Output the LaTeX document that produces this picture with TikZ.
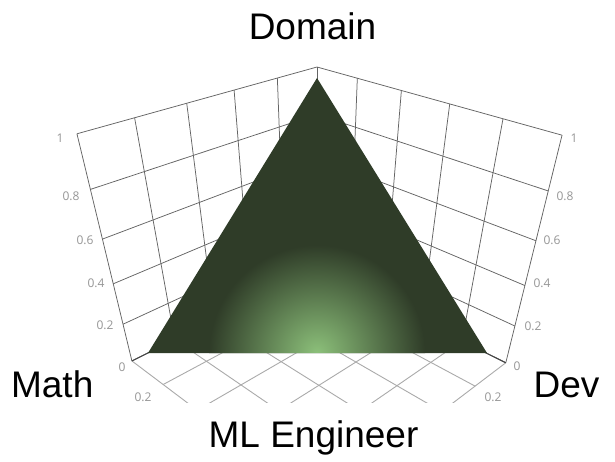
\documentclass[tikz,border=0pt]{standalone}
\usepackage{fontspec}
\setmainfont{Liberation Sans}
\newfontfamily\tickfont{Open Sans}

\definecolor{gridwall}{RGB}{100,100,100}
\definecolor{gridfloor}{RGB}{170,170,170}
\definecolor{edgedark}{RGB}{70,70,70}
\definecolor{ticklbl}{RGB}{150,150,150}
\definecolor{surfdark}{RGB}{47,60,40}
\definecolor{surflight}{RGB}{140,192,122}

% glow of the surface: light at the centre, dark from a quarter of the box on
\pgfdeclareradialshading{glow}{\pgfpoint{0bp}{0bp}}{%
  color(0bp)=(surflight); color(25bp)=(surfdark); color(50bp)=(surfdark)}

% perspective projection of the unit box: X along the left wall,
% Y along the right wall, Z upwards, all in [0,1]
\pgfqkeys{/boxcs}{X/.store in=\bX, Y/.store in=\bY, Z/.store in=\bZ}
\tikzdeclarecoordinatesystem{box}{%
  \pgfqkeys{/boxcs}{X=0,Y=0,Z=0,#1}%
  \pgfmathsetmacro\bp{0.8694*\bY-0.8554*\bX}%
  \pgfmathsetmacro\bq{0.8554*\bX+0.8694*\bY}%
  \pgfmathsetmacro\bd{(3.3088-\bq)*0.7206+(1.8218-\bZ)*0.6934}%
  \pgfmathsetmacro\bu{(3.3088-\bq)*0.6934+(\bZ-1.8218)*0.7206}%
  \pgfmathsetmacro\bsx{317+656*\bp/\bd}%
  \pgfmathsetmacro\bsy{445-656*\bu/\bd}%
  \pgfpoint{\bsx pt}{-\bsy pt}%
}

\begin{document}
\begin{tikzpicture}[x=1pt,y=-1pt,
  wallgrid/.style={draw=gridwall,line width=0.75pt},
  flooredge/.style={draw=edgedark,line width=0.9pt},
  floorgrid/.style={draw=gridfloor,line width=0.9pt},
  ticklabel/.style={font=\tickfont\fontsize{12}{13}\selectfont,text=ticklbl,inner sep=0pt},
  axistitle/.style={font=\fontsize{37}{40}\selectfont,inner sep=0pt,anchor=base}]
\useasboundingbox (0,0) rectangle (615,462);
\fill[white] (0,0) rectangle (615,462);

% floor grid, cut off at the bottom of the scene
\begin{scope}
  \clip (0,0) rectangle (615,402);
  \foreach \k in {0,0.2,0.4,0.6,0.8,1} {
    \draw[floorgrid] (box cs:X=\k,Y=0) -- (box cs:X=\k,Y=1);
    \draw[floorgrid] (box cs:X=0,Y=\k) -- (box cs:X=1,Y=\k);
  }
\end{scope}

% back walls
\foreach \k in {0,0.2,0.4,0.6,0.8,1} {
  \draw[wallgrid] (box cs:X=\k,Y=0,Z=0) -- (box cs:X=\k,Y=0,Z=1);
  \draw[wallgrid] (box cs:X=0,Y=0,Z=\k) -- (box cs:X=1,Y=0,Z=\k);
  \draw[wallgrid] (box cs:X=0,Y=\k,Z=0) -- (box cs:X=0,Y=\k,Z=1);
  \draw[wallgrid] (box cs:X=0,Y=0,Z=\k) -- (box cs:X=0,Y=1,Z=\k);
}
\draw[flooredge] (box cs:X=1,Y=0) -- (box cs:X=0,Y=0) -- (box cs:X=0,Y=1);

% the surface
\coordinate (apex) at (317,78);
\coordinate (bl) at (148,353);
\coordinate (br) at (487,353);
\begin{scope}
  \clip (apex) -- (bl) -- (br) -- cycle;
  \fill[surfdark] (0,0) rectangle (615,462);
  \shade[shading=glow] (317,353) circle[radius=108pt];
\end{scope}

% tick labels of the vertical axis
\node[ticklabel] (lz10) at (60,138) {1};
\node[ticklabel] (lz08) at (71,196) {0.8};
\node[ticklabel] (lz06) at (85,240) {0.6};
\node[ticklabel] (lz04) at (96,283) {0.4};
\node[ticklabel] (lz02) at (105,325) {0.2};
\node[ticklabel] (lz00) at (122,367) {0};
\node[ticklabel] (rz10) at (574,138) {1};
\node[ticklabel] (rz08) at (565,196) {0.8};
\node[ticklabel] (rz06) at (552,240) {0.6};
\node[ticklabel] (rz04) at (542,283) {0.4};
\node[ticklabel] (rz02) at (533,326) {0.2};
\node[ticklabel] (rz00) at (517,366) {0};
% tick labels of the floor
\node[ticklabel] (lf02) at (143,397) {0.2};
\node[ticklabel] (rf02) at (493,397) {0.2};

% corner titles
\node[axistitle] (domain) at (312.5,40) {Domain};
\node[axistitle] (math) at (52.2,397) {Math};
\node[axistitle] (dev) at (566.5,397) {Dev};
\node[axistitle] (mleng) at (313.5,447) {ML Engineer};
\end{tikzpicture}
\end{document}
